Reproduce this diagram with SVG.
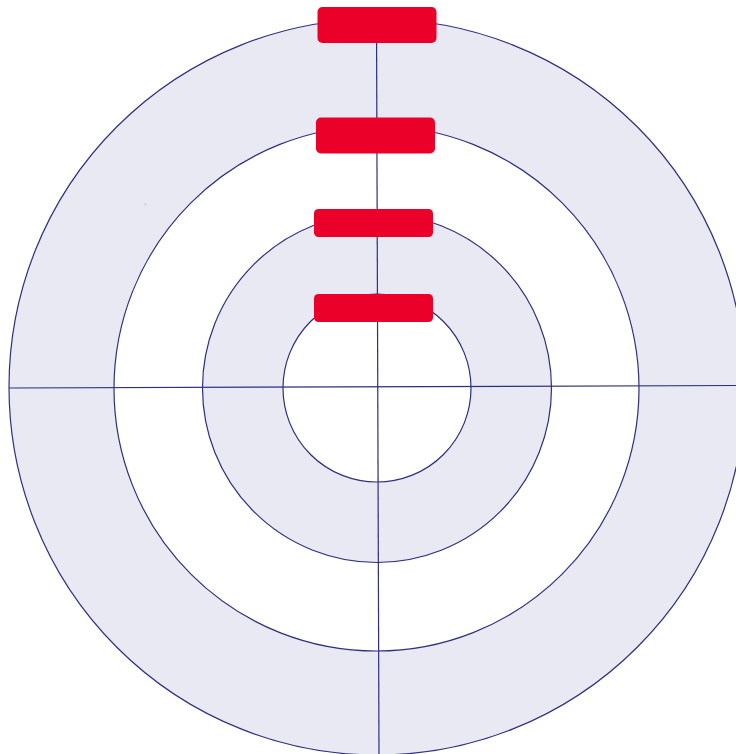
<svg xmlns="http://www.w3.org/2000/svg" width="736" height="754" viewBox="0 0 736 754">
<style>
.ring{stroke:#2e2f7f;stroke-width:1.2}
.band{fill:#e8e9f2}
.gap{fill:#ffffff}
.axis{stroke:#2e2f7f;stroke-width:1.2;fill:none}
.tag{fill:#eb0029}
</style>
<rect width="736" height="754" fill="#ffffff"/>
<g id="ring-outer"><circle class="ring band" cx="377" cy="387" r="368"/></g>
<g id="ring-2"><circle class="ring gap" cx="376.5" cy="388.5" r="262.5"/></g>
<g id="ring-3"><circle class="ring band" cx="377" cy="388" r="174.5"/></g>
<g id="ring-inner"><circle class="ring gap" cx="377" cy="388" r="94"/></g>
<circle cx="145.3" cy="204.3" r="1.2" fill="#d4d4dc"/>
<g id="connectors">
<line class="axis" x1="9" y1="388" x2="736" y2="385.5"/>
<line class="axis" x1="376.5" y1="22" x2="379" y2="754"/>
</g>
<g id="tag-1"><rect class="tag" x="317.5" y="7" width="119" height="36" rx="5"/></g>
<g id="tag-2"><rect class="tag" x="316" y="117.5" width="119" height="36" rx="5"/></g>
<g id="tag-3"><rect class="tag" x="314" y="209" width="119" height="28" rx="4.5"/></g>
<g id="tag-4"><rect class="tag" x="314" y="294" width="119" height="28" rx="4.5"/></g>
</svg>
